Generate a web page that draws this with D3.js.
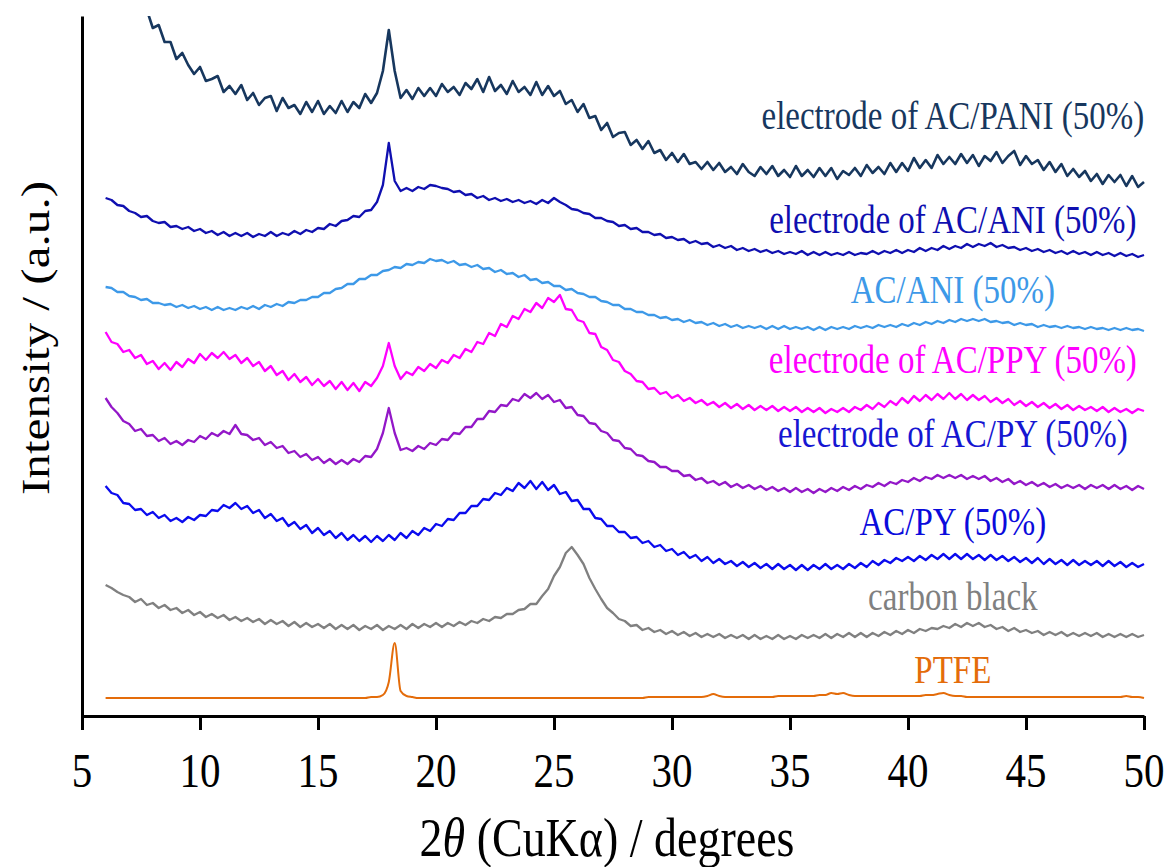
<!DOCTYPE html>
<html>
<head>
<meta charset="utf-8">
<script src="https://cdn.jsdelivr.net/npm/d3@7"></script>
<style>
  body { margin: 0; background: #fff; }
  text { font-family: "Liberation Serif", "Times New Roman", serif; }
</style>
</head>
<body>
<svg id="svg" width="1172" height="867"></svg>
<script>
// XRD scans, 2theta from 6 to 50 degrees in 0.25 degree steps, intensities stacked (a.u.)
let scanStart = 6;
let scanStep = 0.25;

let pani_electrode = [
  759, 744, 743, 728, 730, 716, 705, 706,  688, 691, 674, 674, 657, 663, 651, 642,
  649, 635, 637, 640, 624, 630, 622, 631,  616, 623, 611, 618, 620, 605, 618, 608,
  611, 602, 614, 604, 615, 602, 610, 603,  615, 604, 614, 608, 622, 613, 623, 645,
  686, 645, 618, 626, 617, 628, 620, 628,  620, 632, 624, 629, 621, 633, 627, 637,
  624, 639, 625, 631, 622, 635, 624, 629,  621, 634, 621, 630, 620, 625, 612, 616,
  604, 612, 598, 600, 586, 593, 579, 583,  584, 571, 576, 567, 575, 563, 566, 556,
  563, 554, 562, 552, 554, 547, 554, 546,  553, 544, 549, 542, 552, 544, 540, 549,
  542, 550, 540, 546, 539, 550, 540, 546,  539, 548, 540, 548, 537, 545, 541, 548,
  540, 551, 543, 549, 542, 553, 544, 553,  545, 558, 548, 556, 548, 561, 552, 559,
  552, 562, 553, 561, 550, 560, 555, 564,  553, 560, 565, 551, 560, 552, 556, 546,
  554, 544, 552, 540, 547, 539, 545, 535,  542, 532, 541, 534, 541, 530, 540, 529,
  534
];

let ani_electrode = [
  518, 516, 511, 510, 505, 503, 499, 500,  495, 493, 494, 489, 490, 487, 489, 485,
  487, 483, 485, 481, 484, 480, 483, 480,  483, 479, 482, 480, 484, 480, 483, 481,
  485, 482, 486, 484, 488, 487, 492, 490,  495, 496, 500, 499, 505, 506, 514, 531,
  573, 535, 525, 528, 525, 529, 527, 531,  530, 528, 527, 524, 525, 521, 522, 518,
  520, 516, 518, 515, 517, 514, 516, 513,  515, 512, 516, 513, 518, 514, 511, 507,
  506, 503, 502, 498, 498, 495, 494, 490,  491, 487, 488, 484, 484, 481, 482, 478,
  479, 476, 477, 473, 475, 472, 473, 469,  471, 468, 470, 466, 468, 465, 467, 464,
  466, 463, 465, 462, 464, 462, 465, 461,  464, 461, 464, 461, 463, 461, 464, 461,
  463, 462, 465, 462, 465, 463, 466, 463,  466, 464, 468, 465, 468, 466, 470, 467,
  470, 468, 472, 469, 472, 470, 473, 469,  471, 468, 469, 466, 468, 465, 467, 464,
  466, 463, 465, 462, 465, 462, 464, 461,  464, 461, 463, 460, 463, 460, 462, 459,
  461
];

let ani_powder = [
  429, 428, 424, 424, 420, 419, 416, 417,  413, 413, 411, 412, 409, 411, 408, 410,
  407, 409, 406, 409, 406, 408, 406, 409,  407, 410, 407, 411, 409, 412, 410, 414,
  413, 416, 416, 419, 419, 423, 423, 427,  428, 432, 432, 437, 437, 441, 441, 445,
  446, 449, 448, 452, 451, 454, 453, 457,  455, 456, 453, 455, 451, 452, 449, 451,
  447, 448, 444, 446, 442, 443, 439, 441,  436, 437, 433, 434, 430, 430, 426, 427,
  423, 422, 419, 419, 415, 414, 411, 411,  407, 407, 404, 404, 401, 401, 398, 399,
  396, 397, 394, 396, 393, 394, 391, 393,  390, 392, 389, 391, 388, 390, 388, 390,
  387, 390, 387, 390, 387, 389, 387, 389,  386, 389, 386, 389, 387, 389, 387, 390,
  388, 390, 388, 391, 389, 391, 389, 392,  390, 393, 391, 394, 392, 395, 393, 396,
  394, 397, 395, 397, 395, 397, 394, 395,  393, 394, 391, 393, 391, 392, 389, 391,
  389, 390, 388, 390, 388, 389, 387, 389,  387, 388, 386, 388, 386, 388, 386, 387,
  385
];

let ppy_electrode = [
  384, 374, 372, 364, 366, 358, 361, 352,  355, 347, 353, 346, 354, 349, 357, 353,
  362, 356, 363, 358, 364, 357, 361, 353,  358, 350, 354, 345, 350, 341, 345, 336,
  342, 334, 339, 331, 337, 330, 335, 327,  334, 326, 333, 325, 334, 330, 338, 350,
  373, 350, 337, 344, 341, 349, 345, 352,  348, 356, 353, 361, 358, 367, 364, 374,
  372, 383, 380, 392, 389, 400, 397, 407,  404, 413, 408, 418, 414, 421, 407, 406,
  396, 394, 383, 382, 369, 366, 356, 354,  345, 342, 335, 334, 327, 328, 322, 324,
  318, 321, 315, 318, 313, 316, 311, 314,  309, 313, 308, 312, 307, 311, 306, 310,
  306, 310, 305, 309, 305, 309, 304, 308,  304, 308, 303, 307, 304, 308, 304, 309,
  306, 311, 307, 313, 309, 315, 311, 318,  313, 320, 315, 321, 316, 322, 317, 323,
  317, 322, 316, 321, 316, 320, 314, 318,  313, 317, 311, 315, 310, 314, 309, 313,
  308, 312, 307, 311, 306, 310, 306, 309,  305, 309, 304, 308, 304, 307, 303, 307,
  305
];

let py_electrode = [
  318, 309, 303, 295, 292, 285, 287, 280,  281, 275, 278, 272, 275, 271, 276, 274,
  280, 277, 283, 280, 285, 282, 291, 282,  281, 276, 278, 271, 274, 268, 270, 263,
  265, 259, 262, 256, 259, 253, 257, 252,  256, 252, 257, 254, 260, 259, 267, 283,
  308, 283, 266, 268, 265, 270, 267, 273,  271, 277, 276, 283, 282, 289, 289, 297,
  297, 305, 304, 311, 310, 317, 315, 322,  318, 323, 317, 321, 314, 316, 308, 309,
  301, 300, 293, 292, 285, 283, 276, 275,  268, 267, 261, 260, 255, 254, 249, 249,
  245, 245, 240, 241, 236, 238, 233, 235,  231, 234, 229, 232, 228, 231, 227, 230,
  226, 229, 225, 228, 224, 228, 224, 227,  223, 227, 224, 228, 225, 229, 226, 230,
  227, 231, 229, 233, 230, 234, 232, 236,  234, 238, 235, 239, 237, 241, 238, 241,
  238, 241, 237, 240, 237, 240, 235, 238,  234, 237, 232, 235, 231, 234, 230, 233,
  229, 232, 228, 231, 228, 231, 227, 231,  228, 231, 227, 231, 227, 230, 226, 230,
  227
];

let py_powder = [
  230, 223, 221, 213, 212, 206, 207, 201,  204, 198, 201, 195, 198, 194, 199, 196,
  201, 200, 206, 205, 211, 208, 213, 207,  210, 203, 206, 198, 202, 195, 198, 190,
  194, 187, 191, 183, 188, 181, 185, 178,  183, 176, 181, 175, 180, 174, 180, 175,
  181, 176, 183, 178, 185, 181, 188, 185,  192, 190, 197, 196, 203, 203, 210, 210,
  217, 216, 223, 221, 228, 225, 233, 228,  235, 227, 234, 226, 231, 222, 224, 215,
  216, 207, 207, 198, 197, 190, 190, 184,  184, 178, 179, 173, 175, 169, 171, 165,
  167, 161, 164, 158, 161, 155, 159, 153,  157, 152, 155, 150, 154, 149, 153, 148,
  152, 147, 152, 147, 151, 146, 151, 146,  151, 147, 152, 147, 151, 147, 152, 148,
  153, 149, 155, 151, 156, 153, 158, 155,  159, 155, 160, 156, 161, 157, 162, 157,
  162, 157, 162, 157, 161, 156, 161, 156,  160, 155, 159, 154, 158, 153, 158, 152,
  157, 152, 156, 151, 156, 151, 155, 151,  155, 150, 155, 150, 154, 149, 153, 149,
  152
];

let carbon_black = [
  131, 128, 124, 121, 119, 114, 117, 111,  113, 108, 111, 106, 108, 103, 106, 101,
  104,  99, 102,  98, 101,  96,  99,  95,   98,  94,  97,  92,  96,  92,  95,  90,
   94,  89,  93,  89,  92,  88,  92,  87,   91,  87,  91,  86,  90,  87,  91,  86,
   90,  87,  91,  87,  92,  88,  92,  89,   93,  89,  93,  90,  94,  91,  95,  93,
   97,  95,  99,  98, 102, 102, 106, 107,  112, 112, 120, 127, 140, 149, 163, 169,
  161, 152, 138, 127, 117, 108, 103,  97,   95,  90,  91,  86,  88,  84,  86,  82,
   85,  81,  84,  80,  83,  79,  82,  79,   82,  78,  81,  78,  81,  77,  81,  77,
   80,  77,  81,  77,  80,  77,  81,  78,   81,  78,  82,  78,  82,  79,  83,  79,
   83,  79,  83,  80,  84,  81,  85,  82,   86,  83,  87,  85,  88,  87,  90,  88,
   92,  89,  93,  90,  93,  89,  91,  87,   89,  85,  88,  84,  86,  83,  85,  81,
   84,  81,  84,  80,  83,  80,  83,  80,   83,  79,  82,  79,  82,  79,  82,  79,
   81
];

let ptfe = [
  18, 18, 18, 18, 18, 18, 18, 18,  18, 18, 18, 18, 18, 18, 18, 18,
  18, 18, 18, 18, 18, 18, 18, 18,  18, 18, 18, 18, 18, 18, 18, 18,
  18, 18, 18, 18, 18, 18, 18, 18,  18, 18, 18, 18, 18, 19, 19, 21,
  34, 73, 25, 20, 19, 18, 18, 18,  18, 18, 18, 18, 18, 18, 18, 18,
  18, 18, 18, 18, 18, 18, 18, 18,  18, 18, 18, 18, 18, 18, 18, 18,
  18, 18, 18, 18, 18, 18, 18, 18,  18, 18, 18, 18, 19, 19, 19, 19,
  19, 19, 19, 19, 19, 19, 20, 22,  20, 19, 19, 19, 19, 19, 19, 19,
  19, 19, 20, 20, 20, 20, 20, 20,  20, 21, 21, 23, 22, 23, 21, 20,
  20, 20, 20, 20, 20, 20, 20, 20,  20, 20, 20, 21, 21, 22, 23, 21,
  20, 20, 19, 19, 19, 19, 19, 19,  19, 19, 19, 19, 19, 19, 19, 19,
  19, 19, 19, 19, 19, 19, 19, 19,  19, 19, 19, 19, 19, 20, 19, 19,
  18
];

let seriesNames = ["electrode of AC/PANI (50%)", "electrode of AC/ANI (50%)", "AC/ANI (50%)",
  "electrode of AC/PPY (50%)", "electrode of AC/PY (50%)", "AC/PY (50%)", "carbon black", "PTFE"];
let seriesData = [pani_electrode, ani_electrode, ani_powder, ppy_electrode, py_electrode, py_powder, carbon_black, ptfe];
let lineColors = ["#17375e", "#0f0fb0", "#3d99e8", "#ff00ff", "#9317c8", "#0b0bee", "#808080", "#e46c0a"];
let labelColors = ["#17375e", "#0f0fb0", "#3d99e8", "#ff00ff", "#1616d2", "#0b0bdc", "#808080", "#e46c0a"];
// label anchor: 2theta of the text centre and intensity of its baseline
let labelTheta = 41.9;
let labelLevel = [587, 483, 413, 343, 269, 181, 106, 33];

let xTicks = [5, 10, 15, 20, 25, 30, 35, 40, 45, 50];

let width = 1172;
let height = 867;
let plotLeft = 82, plotRight = 1144, plotTop = 16, plotBottom = 716;
let stretch = 1.2;  // text in this figure is drawn taller than wide

let svg = d3.select("#svg");

let x = d3.scaleLinear().domain([5, 50]).range([plotLeft, plotRight]);
let y = d3.scaleLinear().domain([0, 700]).range([plotBottom, plotTop]);

svg.append("defs").append("clipPath").attr("id", "plot-area")
  .append("rect")
  .attr("x", plotLeft).attr("y", plotTop)
  .attr("width", width - plotLeft).attr("height", plotBottom - plotTop);

let plot = svg.append("g").attr("clip-path", "url(#plot-area)");

seriesData.forEach((values, k) => {
  let points = values.map((v, i) => [scanStart + i * scanStep, v]);
  let line = d3.line()
    .x(d => x(d[0]))
    .y(d => y(d[1]))
    .curve(k == 7 ? d3.curveMonotoneX : d3.curveLinear);
  plot.append("path")
    .datum(points)
    .attr("d", line)
    .attr("fill", "none")
    .attr("stroke", lineColors[k])
    .attr("stroke-width", k == 0 ? 2.6 : (k == 7 ? 2 : 2.3))
    .attr("stroke-linejoin", "round");
});

// axes
let xAxis = svg.append("g")
  .attr("transform", `translate(0,${plotBottom})`)
  .call(d3.axisBottom(x).tickValues(xTicks).tickSize(14).tickSizeOuter(0).tickFormat(""));
let yAxis = svg.append("g")
  .attr("transform", `translate(${plotLeft},0)`)
  .call(d3.axisLeft(y).tickValues([]).tickSizeOuter(0));
[xAxis, yAxis].forEach(g => {
  g.selectAll("path, line").attr("stroke", "#000").attr("stroke-width", 3);
});

svg.selectAll(".tick-label")
  .data(xTicks)
  .enter()
  .append("text")
  .attr("class", "tick-label")
  .attr("transform", d => `translate(${x(d)},787) scale(1,${stretch})`)
  .attr("text-anchor", "middle")
  .attr("font-size", 41)
  .attr("fill", "#000")
  .text(d => d);

// trace labels
svg.selectAll(".trace-label")
  .data(seriesNames)
  .enter()
  .append("text")
  .attr("class", "trace-label")
  .attr("transform", (d, i) => `translate(${x(labelTheta)},${y(labelLevel[i])}) scale(1,${stretch})`)
  .attr("text-anchor", "middle")
  .attr("font-size", 33)
  .attr("fill", (d, i) => labelColors[i])
  .text(d => d);

// axis titles
let xTitle = svg.append("text")
  .attr("transform", `translate(607,856) scale(1,${stretch})`)
  .attr("text-anchor", "middle")
  .attr("font-size", 46)
  .attr("fill", "#000");
xTitle.append("tspan").text("2");
xTitle.append("tspan").attr("font-style", "italic").text("\u03b8");
xTitle.append("tspan").text(" (CuK\u03b1) / degrees");

svg.append("text")
  .attr("transform", `translate(49,338) scale(1,${stretch}) rotate(-90)`)
  .attr("text-anchor", "middle")
  .attr("font-size", 41)
  .attr("fill", "#000")
  .text("Intensity / (a.u.)");
</script>
</body>
</html>
